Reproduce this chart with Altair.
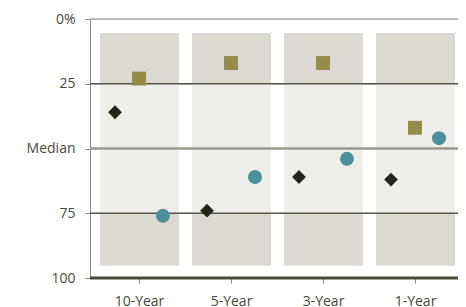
import altair as alt
import pandas as pd

categories = ["10-Year", "5-Year", "3-Year", "1-Year"]
series_names = ["Fund", "Benchmark", "Peer Average"]
fund_values = [36, 74, 61, 62]
benchmark_values = [23, 17, 17, 42]
peer_values = [76, 61, 54, 46]

band_outer = [5.4, 95.3]
band_inner = [25, 75]

grid_values = [0, 25, 50, 75, 100]
grid_colors = ["#8c8c82", "#55554a", "#9a9a8f", "#55554a", "#4a4a3a"]
grid_widths = [1, 1.5, 2.5, 1.5, 3]

W, H = 368, 259
FONT = "Open Sans"
FS = 14
LC = "#48483c"

rows = []
for name, vals in zip(series_names, [fund_values, benchmark_values, peer_values]):
    for c, v in zip(categories, vals):
        rows.append({"category": c, "series": name, "value": v})
pts = pd.DataFrame(rows)

bg = pd.DataFrame({"category": categories,
                   "o1": [band_outer[0]] * 4, "o2": [band_outer[1]] * 4,
                   "i1": [band_inner[0]] * 4, "i2": [band_inner[1]] * 4})
grid = pd.DataFrame({"y": grid_values, "color": grid_colors, "w": grid_widths})

xscale = alt.Scale(domain=categories, paddingInner=0, paddingOuter=0, range=[3.5, 371.5])
yscale = alt.Scale(domain=[0, 100], reverse=True, nice=False)

xenc = alt.X("category:N", scale=xscale, sort=categories,
             axis=alt.Axis(title=None, labelAngle=0,
                           labelFont=FONT, labelFontSize=FS, labelColor=LC,
                           labelPadding=11))

outer = alt.Chart(bg).mark_bar(width=79, color="#dcd9d2").encode(
    x=xenc,
    y=alt.Y("o1:Q", scale=yscale,
            axis=alt.Axis(title=None, values=grid_values, labelFont=FONT, labelFontSize=FS,
                          labelColor=LC, labelPadding=10,
                          labelExpr="datum.value == 0 ? '0%' : (datum.value == 50 ? 'Median' : datum.label)")),
    y2="o2:Q",
)
inner = alt.Chart(bg).mark_bar(width=79, color="#eeeeea").encode(
    x=alt.X("category:N", scale=xscale, sort=categories),
    y=alt.Y("i1:Q", scale=yscale),
    y2="i2:Q",
)
rules = alt.Chart(grid).mark_rule().encode(
    y=alt.Y("y:Q", scale=yscale),
    x=alt.value(0),
    x2=alt.value(W),
    color=alt.Color("color:N", scale=None),
    strokeWidth=alt.StrokeWidth("w:Q", scale=None),
)

shapes = ["diamond", "square", "circle"]
colors = ["#22261a", "#948d4a", "#4a8f9a"]
sizes = [190, 196, 160]

points = alt.Chart(pts).mark_point(filled=True, opacity=1).encode(
    x=alt.X("category:N", scale=xscale, sort=categories),
    xOffset=alt.XOffset("series:N", sort=series_names,
                        scale=alt.Scale(domain=series_names, range=[21.5, 69.5],
                                        paddingInner=0, paddingOuter=0)),
    y=alt.Y("value:Q", scale=yscale),
    shape=alt.Shape("series:N", scale=alt.Scale(domain=series_names, range=shapes), legend=None),
    color=alt.Color("series:N", scale=alt.Scale(domain=series_names, range=colors), legend=None),
    size=alt.Size("series:N", scale=alt.Scale(domain=series_names, range=sizes), legend=None),
)

chart = alt.layer(outer, inner, rules, points).properties(
    width=W, height=H,
    autosize=alt.AutoSizeParams(type="none"),
    padding={"left": 82, "top": 11, "right": 0, "bottom": 29},
).configure_view(stroke=None).configure_axis(
    domain=False, ticks=False, grid=False
).configure(background="white")

chart.save("out.html", embed_options={"renderer": "svg", "actions": False})
